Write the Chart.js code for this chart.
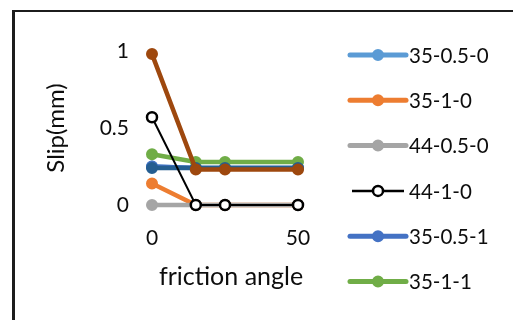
<!DOCTYPE html>
<html>
<head>
<meta charset="utf-8">
<script src="https://cdn.jsdelivr.net/npm/chart.js@4"></script>
<style>
  html, body { margin: 0; padding: 0; background: #fff; overflow: hidden; }
  #wrap { position: relative; width: 513px; height: 320px; overflow: hidden; }
  #frame { position: absolute; left: 12px; top: 10px; width: 600px; height: 400px;
           border-left: 3px solid #1c1c1c; border-top: 2px solid #1c1c1c; }
  canvas { position: absolute; left: 0; top: 0; }
</style>
</head>
<body>
<div id="wrap">
  <div id="frame"></div>
  <canvas id="c" width="513" height="320"></canvas>
</div>
<script>
// friction angle (x) and slip values (mm) for each case
const frictionAngle = [0, 15, 25, 50];
const xTicks = [0, 50];
const yTicks = [0, 0.5, 1];

const names = ['35-0.5-0', '35-1-0', '44-0.5-0', '44-1-0', '35-0.5-1', '35-1-1', '44-0.5-1', '44-1-1'];
const slip_35_05_0 = [0.25, 0.24, 0.24, 0.24];
const slip_35_1_0  = [0.14, 0, 0, 0];
const slip_44_05_0 = [0, 0, 0, 0];
const slip_44_1_0  = [0.57, 0, 0, 0];
const slip_35_05_1 = [0.25, 0.24, 0.24, 0.24];
const slip_35_1_1  = [0.33, 0.28, 0.28, 0.28];
const slip_44_05_1 = [0.24, 0.24, 0.24, 0.24];
const slip_44_1_1  = [0.98, 0.23, 0.23, 0.23];

const seriesValues = [slip_35_05_0, slip_35_1_0, slip_44_05_0, slip_44_1_0,
                      slip_35_05_1, slip_35_1_1, slip_44_05_1, slip_44_1_1];
const colors = ['#5B9BD5', '#ED7D31', '#A5A5A5', '#000000', '#4472C4', '#70AD47', '#255E91', '#9E480E'];
// stacking: larger order is painted first
const paintOrder = [8, 7, 6, 2, 5, 4, 3, 1];

const FONT = 'Lato, "Open Sans", sans-serif';
const TEXT = '#0d0d0d';

const datasets = seriesValues.map((vals, i) => {
  const open = names[i] === '44-1-0';
  return {
    label: names[i],
    data: frictionAngle.map((x, k) => ({ x: x, y: vals[k] })),
    borderColor: colors[i],
    backgroundColor: colors[i],
    borderWidth: open ? 2 : 4.5,
    pointRadius: 5,
    pointHoverRadius: 5,
    pointBackgroundColor: open ? '#ffffff' : colors[i],
    pointBorderColor: colors[i],
    pointBorderWidth: open ? 2.5 : 2,
    tension: 0,
    clip: false,
    order: paintOrder[i]
  };
});

// legend column on the right-hand side; rows that run past the bottom edge are left out
const sideLegend = {
  id: 'sideLegend',
  afterDraw(chart, args, o) {
    const ctx = chart.ctx;
    chart.data.datasets.forEach((ds, i) => {
      const y = o.top + i * o.gap;
      if (y + o.half > chart.height) return;
      const open = ds.pointBackgroundColor === '#ffffff';
      ctx.save();
      ctx.lineCap = open ? 'butt' : 'round';
      ctx.strokeStyle = ds.borderColor;
      ctx.lineWidth = open ? 2.5 : 5;
      ctx.beginPath();
      ctx.moveTo(open ? o.x0 + 2 : o.x0, y);
      ctx.lineTo(open ? o.x1 - 2 : o.x1, y);
      ctx.stroke();
      ctx.beginPath();
      ctx.arc((o.x0 + o.x1) / 2, y, ds.pointRadius, 0, Math.PI * 2);
      ctx.fillStyle = ds.pointBackgroundColor;
      ctx.fill();
      ctx.lineWidth = ds.pointBorderWidth;
      ctx.strokeStyle = ds.pointBorderColor;
      ctx.stroke();
      ctx.fillStyle = TEXT;
      ctx.font = o.font;
      ctx.textBaseline = 'middle';
      ctx.textAlign = 'left';
      ctx.fillText(ds.label, o.textX, y + 1);
      ctx.restore();
    });
  }
};

// x-axis caption, centred slightly right of the plot centre
const xCaption = {
  id: 'xCaption',
  afterDraw(chart, args, o) {
    const ctx = chart.ctx;
    const a = chart.chartArea;
    ctx.save();
    ctx.fillStyle = TEXT;
    ctx.font = o.font;
    ctx.textAlign = 'center';
    ctx.textBaseline = 'middle';
    ctx.fillText(o.text, (a.left + a.right) / 2 + o.dx, o.y);
    ctx.restore();
  }
};

new Chart(document.getElementById('c'), {
  type: 'line',
  data: { datasets: datasets },
  plugins: [sideLegend, xCaption],
  options: {
    responsive: false,
    animation: false,
    devicePixelRatio: 1,
    layout: { padding: { left: 0, right: 215, top: 51, bottom: 0 } },
    plugins: {
      legend: { display: false },
      tooltip: { enabled: false },
      sideLegend: { top: 55, gap: 45.3, half: 10, x0: 350, x1: 406, textX: 409, font: '20.5px ' + FONT },
      xCaption: { text: 'friction angle', font: '25px ' + FONT, dx: 6, y: 277 }
    },
    scales: {
      x: {
        type: 'linear',
        min: xTicks[0],
        max: xTicks[xTicks.length - 1],
        afterBuildTicks: s => { s.ticks = xTicks.map(v => ({ value: v })); },
        afterFit: s => { s.height = 115; },
        grid: { display: false, drawTicks: false },
        border: { display: false },
        ticks: { color: TEXT, font: { family: FONT, size: 21 }, padding: 21, maxRotation: 0,
                 callback: v => String(v) }
      },
      y: {
        type: 'linear',
        min: yTicks[0],
        max: yTicks[yTicks.length - 1],
        afterBuildTicks: s => { s.ticks = yTicks.map(v => ({ value: v })); },
        afterFit: s => { s.width = 152; },
        grid: { display: false, drawTicks: false },
        border: { display: false },
        ticks: { color: TEXT, font: { family: FONT, size: 21 }, padding: 23,
                 callback: v => String(v) },
        title: { display: true, text: 'Slip(mm)', color: TEXT,
                 font: { family: FONT, size: 24 }, padding: { top: 42, bottom: 0 } }
      }
    }
  }
});
</script>
</body>
</html>
